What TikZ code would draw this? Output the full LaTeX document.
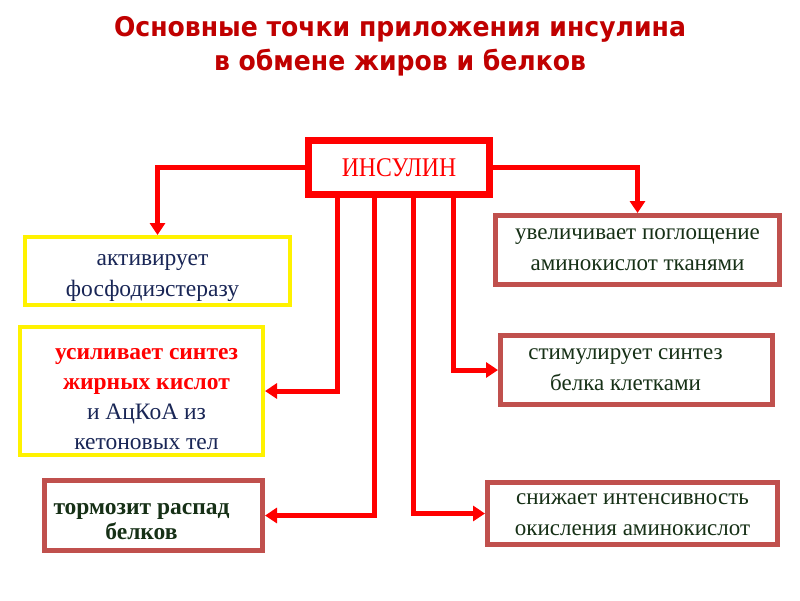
\documentclass[tikz,border=0pt]{standalone}
\usepackage{fontspec}
\setmainfont{Liberation Serif}
\newfontfamily\headfont{DejaVu Sans}[FakeStretch=0.93]
\newfontfamily\hormfont{Liberation Serif}[FakeStretch=0.88]
\usetikzlibrary{arrows.meta, positioning}
\definecolor{headred}{RGB}{192,0,0}
\definecolor{boxbrown}{RGB}{192,80,77}
\definecolor{txtnavy}{RGB}{25,38,86}
\definecolor{txtgreen}{RGB}{22,48,22}
\tikzset{
  heading/.style  = {font=\headfont\bfseries\fontsize{27}{34}\selectfont, text=headred, align=center},
  hormone/.style  = {draw=red, line width=7pt, minimum width=181pt, minimum height=54pt,
                     font=\hormfont\fontsize{27}{30}\selectfont, text=red},
  fatbox/.style   = {draw=yellow, line width=4pt},
  protbox/.style  = {draw=boxbrown, line width=5pt},
  fattxt/.style   = {align=center, font=\fontsize{23.5}{31}\selectfont, text=txtnavy},
  prottxt/.style  = {align=center, font=\fontsize{23}{31}\selectfont, text=txtgreen},
  link/.style     = {-{Triangle[length=12pt, width=15pt]}, line width=5pt, red},
}

\begin{document}
\begin{tikzpicture}[x=1pt, y=-1pt]
  \fill[white] (0,0) rectangle (800,600);
  \node[heading] (title) at (400,46) {Основные точки приложения инсулина\\в обмене жиров и белков};
  \node[hormone] (ins) at (399,167.5) {ИНСУЛИН};

  % fat metabolism
  \node[fatbox, minimum width=265pt, minimum height=68pt] (fd) at (157.5,271) {};
  \node[fattxt] (fdtxt) at ([xshift=-5pt, yshift=-7pt]fd.center) {активирует\\фосфодиэстеразу};
  \node[fatbox, minimum width=243pt, minimum height=128pt] (fa) at (141.5,391) {};
  \node[fattxt, font=\fontsize{23.5}{30}\selectfont] (fatxt) at ([xshift=5pt, yshift=-8pt]fa.center)
    {\textcolor{red}{\textbf{усиливает синтез}}\\\textcolor{red}{\textbf{жирных кислот}}\\и АцКоА из\\кетоновых тел};

  % protein metabolism
  \node[protbox, minimum width=218pt, minimum height=70pt] (tp) at (153.5,515.5) {};
  \node[prottxt, font=\bfseries\fontsize{23.5}{25}\selectfont] (tptxt) at ([xshift=-12pt, yshift=-6pt]tp.center)
    {тормозит распад\\белков};
  \node[protbox, minimum width=284pt, minimum height=69pt] (up) at (637.5,250) {};
  \node[prottxt] (uptxt) at (up.center) {увеличивает поглощение\\аминокислот тканями};
  \node[protbox, minimum width=272pt, minimum height=69pt] (st) at (636.5,370) {};
  \node[prottxt] (sttxt) at ([xshift=-11pt]st.center) {стимулирует синтез\\белка клетками};
  \node[protbox, minimum width=290pt, minimum height=62pt] (sn) at (632.5,513.5) {};
  \node[prottxt] (sntxt) at ([yshift=-1pt]sn.center) {снижает интенсивность\\окисления аминокислот};

  \draw[link] (ins.west) -| (fd.north);
  \draw[link] (ins.east) -| (up.north);
  \draw[link] ([xshift=-62pt]ins.south) |- (fa.east);
  \draw[link] ([xshift=-25pt]ins.south) |- (tp.east);
  \draw[link] ([xshift=14pt]ins.south) |- (sn.west);
  \draw[link] ([xshift=54pt]ins.south) |- (st.west);
\end{tikzpicture}
\end{document}
